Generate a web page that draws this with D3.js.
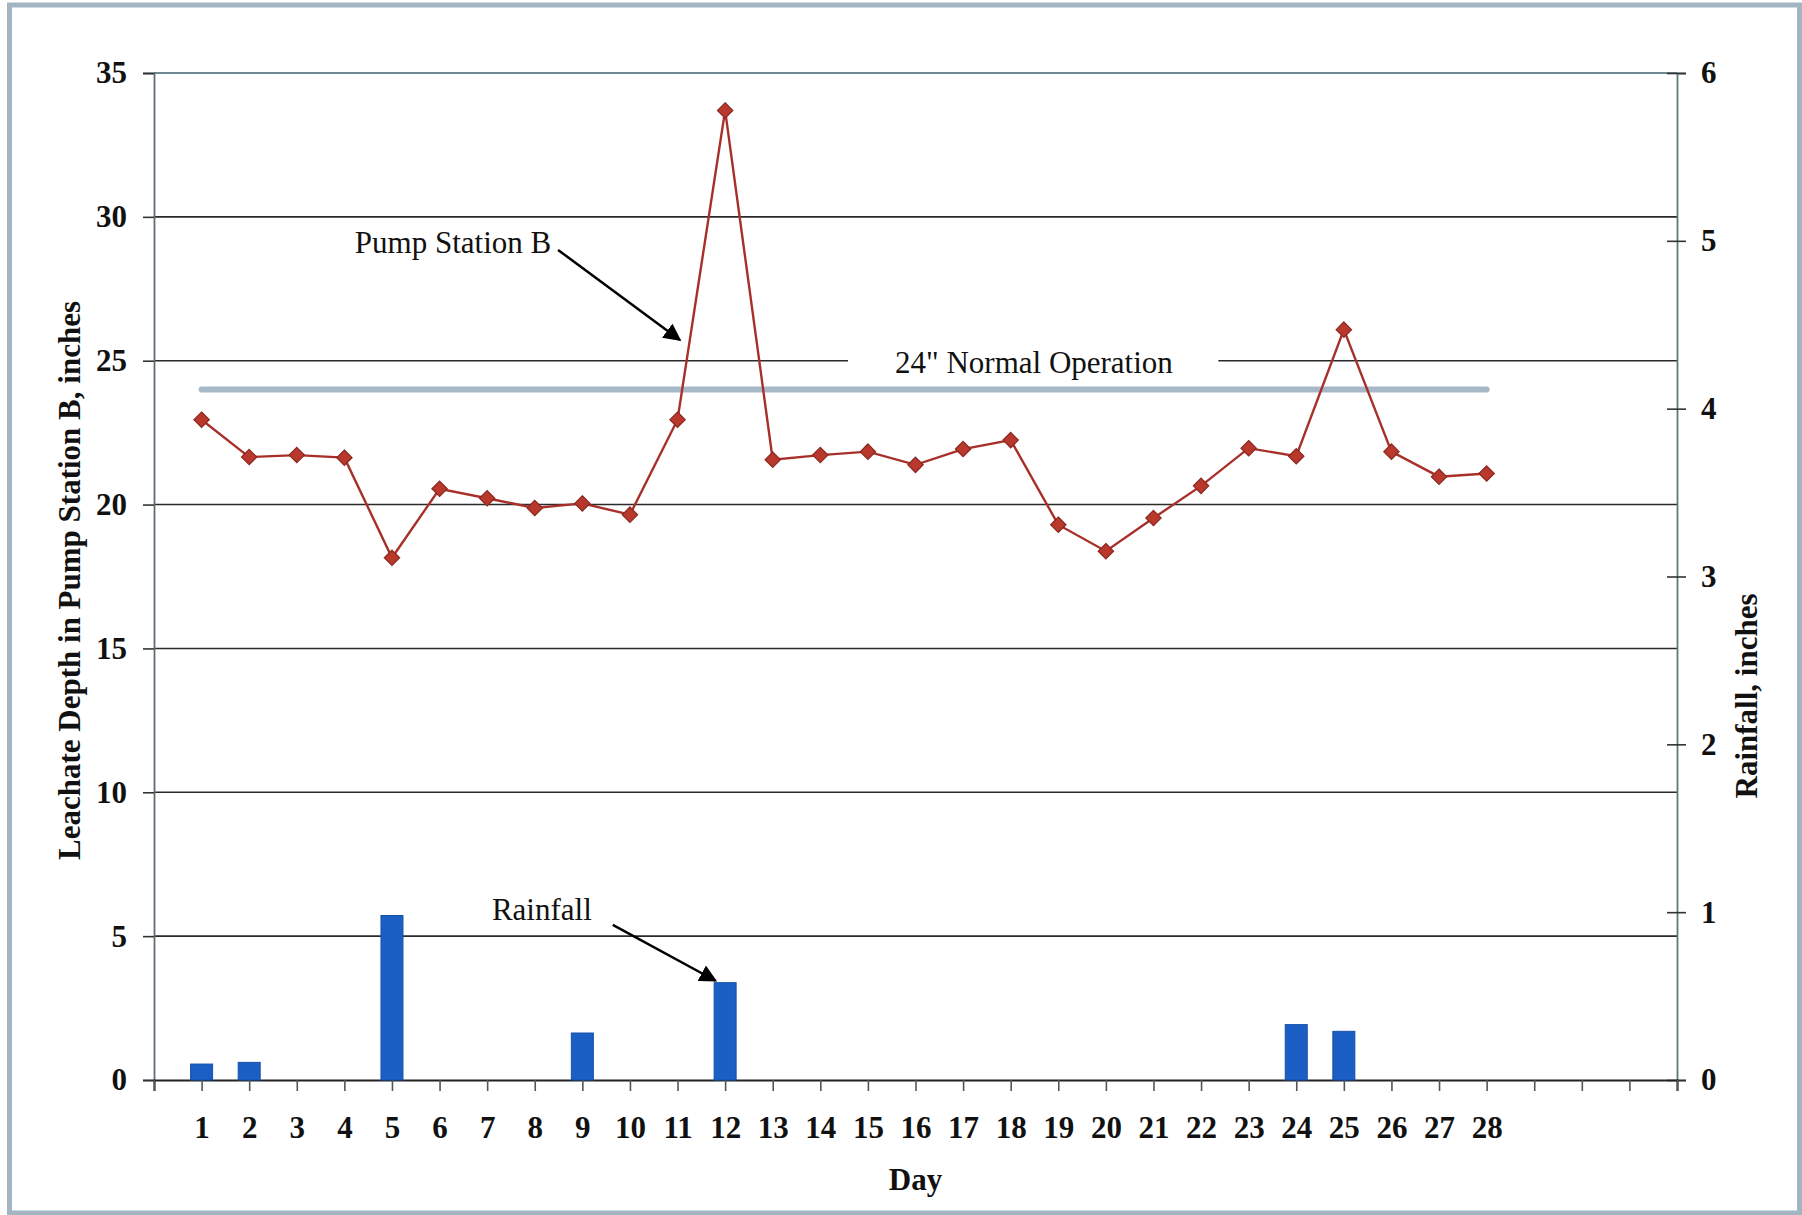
<!DOCTYPE html>
<html>
<head>
<meta charset="utf-8">
<script src="https://cdn.jsdelivr.net/npm/d3@7"></script>
<style>
  html, body { margin: 0; padding: 0; background: #ffffff; }
  svg { display: block; }
  text { font-family: "Liberation Serif", "Times New Roman", serif; fill: #111; }
</style>
</head>
<body>
<svg id="chart" width="1802" height="1215"></svg>
<script>
// Daily observations
const days = [1, 2, 3, 4, 5, 6, 7, 8, 9, 10, 11, 12, 13, 14, 15, 16, 17, 18, 19, 20, 21, 22, 23, 24, 25, 26, 27, 28];
const leachateDepth = [22.95, 21.65, 21.72, 21.63, 18.15, 20.55, 20.22, 19.88, 20.04, 19.65, 22.95, 33.7, 21.56, 21.72,
                       21.84, 21.38, 21.93, 22.24, 19.3, 18.38, 19.53, 20.65, 21.96, 21.68, 26.08, 21.84, 20.97, 21.08];
const rainfall = [0.095, 0.105, 0, 0, 0.98, 0, 0, 0, 0.28, 0, 0, 0.58, 0, 0,
                  0, 0, 0, 0, 0, 0, 0, 0, 0, 0.33, 0.29, 0, 0, 0];
const normalOperation = 24;
const depthTicks = [0, 5, 10, 15, 20, 25, 30, 35];
const rainTicks = [0, 1, 2, 3, 4, 5, 6];
const dayTicks = d3.range(0, 33);

const svg = d3.select("#chart");
const W = 1802, H = 1215;
const plot = { left: 154, right: 1677, top: 73, bottom: 1080 };

const x = d3.scaleLinear().domain([0, 32]).range([plot.left, plot.right]);
const yL = d3.scaleLinear().domain([0, 35]).range([plot.bottom, plot.top]);
const yR = d3.scaleLinear().domain([0, 6]).range([plot.bottom, plot.top]);

// outer frame
svg.append("rect")
  .attr("x", 9.5).attr("y", 5).attr("width", W - 12).attr("height", H - 7)
  .attr("fill", "none").attr("stroke", "#a3b4c3").attr("stroke-width", 5);

// horizontal gridlines
svg.append("g")
  .selectAll("line")
  .data(depthTicks.filter(v => v > 0 && v < 35))
  .join("line")
  .attr("x1", plot.left).attr("x2", plot.right)
  .attr("y1", d => yL(d)).attr("y2", d => yL(d))
  .attr("stroke", "#2a2a2a").attr("stroke-width", 1.6);

// plot-area top edge
svg.append("line")
  .attr("x1", plot.left).attr("x2", plot.right)
  .attr("y1", plot.top).attr("y2", plot.top)
  .attr("stroke", "#6f8790").attr("stroke-width", 1.8);

// left axis
const axisLeft = d3.axisLeft(yL).tickValues(depthTicks).tickSize(11).tickPadding(16).tickFormat(d3.format("d"));
const gL = svg.append("g").attr("transform", `translate(${plot.left},0)`).call(axisLeft);
gL.select(".domain").attr("stroke", "#5b6f75").attr("stroke-width", 1.8);
gL.selectAll(".tick line").attr("stroke", "#333").attr("stroke-width", 1.6);
gL.selectAll(".tick text").attr("font-size", 31).attr("font-weight", "bold")
  .attr("font-family", "Liberation Serif").attr("fill", "#111");

// right axis, ticks crossing the line
const axisRight = d3.axisRight(yR).tickValues(rainTicks).tickSize(9).tickPadding(15).tickFormat(d3.format("d"));
const gR = svg.append("g").attr("transform", `translate(${plot.right},0)`).call(axisRight);
gR.select(".domain").attr("stroke", "#5b7a7c").attr("stroke-width", 1.8);
gR.selectAll(".tick line").attr("x1", -10).attr("stroke", "#333").attr("stroke-width", 1.6);
gR.selectAll(".tick text").attr("font-size", 31).attr("font-weight", "bold")
  .attr("font-family", "Liberation Serif").attr("fill", "#111");

// bottom axis
const axisBottom = d3.axisBottom(x).tickValues(dayTicks).tickSize(11).tickPadding(25)
  .tickFormat(d => (d >= 1 && d <= 28) ? d : "");
const gB = svg.append("g").attr("transform", `translate(0,${plot.bottom})`).call(axisBottom);
gB.select(".domain").attr("stroke", "#222").attr("stroke-width", 2);
gB.selectAll(".tick line").attr("stroke", "#555").attr("stroke-width", 1.6);
gB.selectAll(".tick text").attr("font-size", 31).attr("font-weight", "bold")
  .attr("font-family", "Liberation Serif").attr("fill", "#111");

// annotation text boxes (white fill hides the gridline behind)
function textBox(label, left, baseY, padL, padR) {
  const g = svg.append("g");
  const rect = g.append("rect").attr("fill", "#ffffff");
  const t = g.append("text")
    .attr("x", left).attr("y", baseY)
    .attr("font-size", 31).attr("font-family", "Liberation Serif")
    .text(label);
  const bb = t.node().getBBox();
  rect.attr("x", bb.x - padL).attr("y", bb.y - 2)
    .attr("width", bb.width + padL + padR).attr("height", bb.height + 8);
  return g;
}

textBox("24\" Normal Operation", x(15.57), yL(24.57), 47, 45);
textBox("Rainfall", x(7.1), yL(5.56), 7, 12);

// rainfall bars
const barW = 22;
svg.append("g")
  .selectAll("rect")
  .data(days.map((d, i) => ({ day: d, v: rainfall[i] })).filter(d => d.v > 0))
  .join("rect")
  .attr("x", d => x(d.day) - barW / 2)
  .attr("width", barW)
  .attr("y", d => yR(d.v))
  .attr("height", d => yR(0) - yR(d.v))
  .attr("fill", "#1b5fc4")
  .attr("stroke", "#1550a8").attr("stroke-width", 1);

// 24" normal operation reference line
svg.append("line")
  .attr("x1", x(days[0])).attr("x2", x(days[days.length - 1]))
  .attr("y1", yL(normalOperation)).attr("y2", yL(normalOperation))
  .attr("stroke", "#a7b9c9").attr("stroke-width", 6).attr("stroke-linecap", "round");

// depth series
const line = d3.line().x((d, i) => x(days[i])).y(d => yL(d));
svg.append("path")
  .datum(leachateDepth)
  .attr("d", line)
  .attr("fill", "none")
  .attr("stroke", "#a8302a").attr("stroke-width", 2.4);

const diamond = d3.symbol().type(d3.symbolDiamond2).size(150);
svg.append("g")
  .selectAll("path")
  .data(leachateDepth)
  .join("path")
  .attr("transform", (d, i) => `translate(${x(days[i])},${yL(d)})`)
  .attr("d", diamond)
  .attr("fill", "#b8382c")
  .attr("stroke", "#8a2820").attr("stroke-width", 1.2);

// "Pump Station B" label and arrows
svg.append("defs").append("marker")
  .attr("id", "arrowhead")
  .attr("viewBox", "0 0 10 10").attr("refX", 9).attr("refY", 5)
  .attr("markerWidth", 7).attr("markerHeight", 7)
  .attr("markerUnits", "strokeWidth")
  .attr("orient", "auto")
  .append("path").attr("d", "M0,0 L10,5 L0,10 Z").attr("fill", "#000");

svg.append("text")
  .attr("x", x(4.22)).attr("y", yL(28.75))
  .attr("font-size", 31).attr("font-family", "Liberation Serif")
  .text("Pump Station B");

svg.append("line")
  .attr("x1", x(8.49)).attr("y1", yL(28.85))
  .attr("x2", x(11.05)).attr("y2", yL(25.72))
  .attr("stroke", "#000").attr("stroke-width", 2.5)
  .attr("marker-end", "url(#arrowhead)");

svg.append("line")
  .attr("x1", x(9.64)).attr("y1", yL(5.39))
  .attr("x2", x(11.8)).attr("y2", yL(3.45))
  .attr("stroke", "#000").attr("stroke-width", 2.5)
  .attr("marker-end", "url(#arrowhead)");

// axis titles
const midY = (plot.top + plot.bottom) / 2;
svg.append("text")
  .attr("transform", `translate(80,${midY + 4}) rotate(-90)`)
  .attr("text-anchor", "middle")
  .attr("font-size", 31).attr("font-weight", "bold")
  .text("Leachate Depth in Pump Station B, inches");

svg.append("text")
  .attr("transform", `translate(1757,696) rotate(-90)`)
  .attr("text-anchor", "middle")
  .attr("font-size", 31).attr("font-weight", "bold")
  .text("Rainfall, inches");

svg.append("text")
  .attr("x", (plot.left + plot.right) / 2).attr("y", 1190)
  .attr("text-anchor", "middle")
  .attr("font-size", 31).attr("font-weight", "bold")
  .text("Day");
</script>
</body>
</html>
